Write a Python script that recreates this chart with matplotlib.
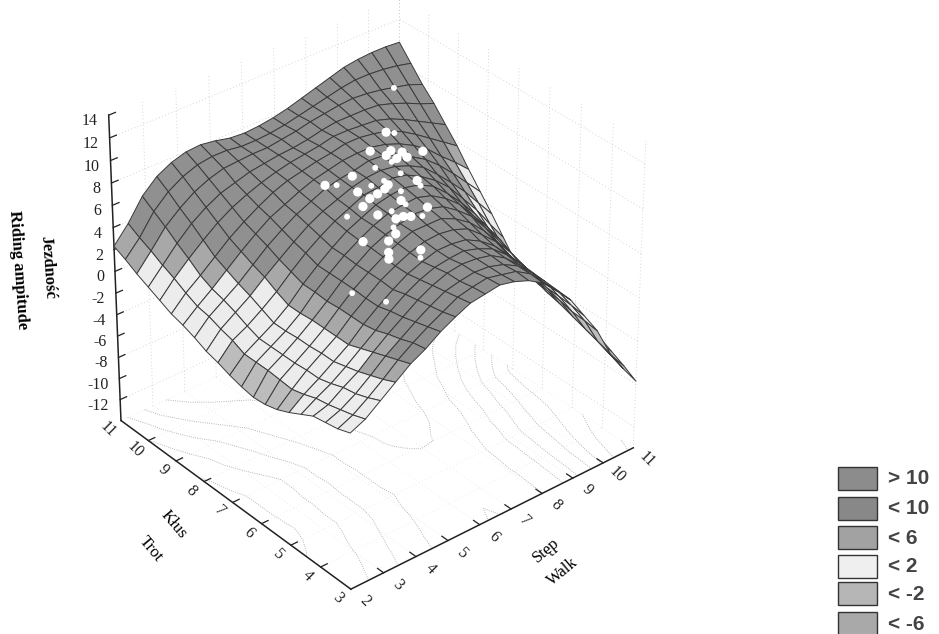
import numpy as np
import matplotlib
matplotlib.use("Agg")
import matplotlib.pyplot as plt
from matplotlib.patches import Rectangle
from mpl_toolkits.mplot3d import proj3d

# ---- data ----
walk_ticks = [2, 3, 4, 5, 6, 7, 8, 9, 10, 11]
trot_ticks = [3, 4, 5, 6, 7, 8, 9, 10, 11]
amp_ticks = [-12, -10, -8, -6, -4, -2, 0, 2, 4, 6, 8, 10, 12, 14]
walk_grid = np.linspace(2, 11, 21)
trot_grid = np.linspace(3, 11, 21)
# rows: Trot ascending, columns: Walk ascending
amplitude = np.array([
 [0.2,0.8,1.8,2.8,3.8,4.5,5.4,6.1,6.7,6.9,7.1,6.8,6.3,5.5,4.2,2.8,0.8,-1.2,-3.9,-5.9,-7.7],
 [-0.2,0.4,1.3,2.3,3.4,4.3,5.1,5.8,6.5,6.8,7.0,6.7,6.4,5.6,4.2,2.9,1.0,-1.0,-3.5,-5.4,-7.0],
 [-0.4,0.1,0.9,1.9,3.0,3.9,4.8,5.6,6.3,6.6,6.8,6.7,6.3,5.6,4.4,3.0,1.1,-0.9,-3.1,-4.9,-6.4],
 [-0.6,-0.2,0.7,1.5,2.6,3.6,4.5,5.4,6.1,6.6,6.8,6.7,6.4,5.6,4.4,3.1,1.2,-0.6,-2.7,-4.4,-5.8],
 [-1.2,-0.4,0.3,1.2,2.2,3.2,4.3,5.2,5.9,6.4,6.6,6.7,6.3,5.7,4.6,3.2,1.4,-0.4,-2.3,-3.8,-5.1],
 [-1.8,-0.8,0.0,0.9,1.8,3.0,4.0,4.9,5.7,6.2,6.6,6.6,6.4,5.7,4.7,3.3,1.5,-0.2,-2.0,-3.3,-4.4],
 [-2.3,-1.1,0.0,0.9,1.8,3.0,4.0,5.0,5.7,6.3,6.7,6.8,6.6,6.1,5.0,3.8,2.0,0.3,-1.5,-2.9,-4.3],
 [-2.6,-1.0,-0.1,0.8,1.8,3.0,4.1,5.0,5.8,6.4,6.9,6.9,6.9,6.3,5.4,4.1,2.5,0.9,-1.0,-2.6,-4.4],
 [-2.7,-0.9,-0.1,0.8,1.8,2.9,4.1,5.0,5.9,6.5,6.9,7.2,7.1,6.7,5.8,4.7,3.1,1.3,-0.5,-2.3,-4.5],
 [-2.5,-0.9,-0.1,0.7,1.7,3.0,4.1,5.1,5.9,6.6,7.1,7.3,7.4,7.0,6.2,5.1,3.5,1.9,0.1,-2.0,-4.1],
 [-2.2,-0.9,-0.1,0.7,1.7,3.0,4.1,5.1,6.0,6.6,7.2,7.5,7.6,7.3,6.6,5.4,4.0,2.4,0.5,-1.6,-3.7],
 [-1.8,-0.4,0.3,1.2,2.2,3.4,4.5,5.4,6.2,6.8,7.4,7.5,7.8,7.5,6.8,5.9,4.7,3.1,1.5,-0.4,-2.2],
 [-1.5,-0.1,0.8,1.7,2.8,3.8,4.8,5.7,6.4,6.9,7.4,7.7,7.8,7.6,7.1,6.4,5.2,3.9,2.5,0.9,-0.7],
 [-1.0,0.3,1.2,2.1,3.2,4.3,5.2,6.0,6.6,7.2,7.5,7.7,8.0,7.9,7.4,6.7,5.9,4.8,3.5,2.1,0.7],
 [-0.6,0.5,1.5,2.6,3.7,4.7,5.6,6.2,6.8,7.3,7.6,7.9,8.0,8.0,7.7,7.2,6.5,5.6,4.4,3.3,2.1],
 [-0.3,1.0,2.0,3.1,4.2,5.1,5.9,6.6,7.1,7.4,7.7,7.9,8.2,8.2,8.0,7.7,7.1,6.3,5.4,4.5,3.6],
 [0.2,1.6,2.8,3.9,4.9,5.7,6.3,6.8,7.2,7.5,7.7,7.9,8.2,8.2,8.1,8.0,7.6,7.0,6.3,5.6,4.9],
 [0.7,2.1,3.5,4.7,5.6,6.3,6.7,7.1,7.3,7.5,7.6,7.8,8.1,8.3,8.3,8.3,8.2,7.8,7.3,6.7,6.2],
 [1.2,2.7,4.3,5.4,6.3,6.9,7.3,7.4,7.5,7.5,7.7,7.9,8.2,8.4,8.6,8.7,8.6,8.4,8.1,7.8,7.3],
 [1.8,3.2,5.0,6.2,7.0,7.5,7.7,7.7,7.5,7.5,7.6,7.8,8.1,8.4,8.7,9.0,9.2,9.2,9.1,8.9,8.6],
 [2.3,3.8,5.7,6.9,7.6,8.0,8.1,7.9,7.6,7.5,7.6,7.8,8.1,8.5,8.9,9.3,9.7,9.9,10.0,10.0,9.9],
])
pts_walk = [8.58,8.71,10.10,7.71,8.11,7.88,8.28,7.99,8.22,8.69,7.79,7.31,7.62,6.64,5.87,6.09,7.71,7.62,7.09,7.05,
            6.71,6.87,6.59,6.28,6.31,5.96,7.10,6.83,6.80,7.12,6.35,5.99,5.38,6.21,6.41,6.55,6.77,5.92,5.78,4.97,
            5.45,5.13,5.78,5.55,4.95,3.37,3.74]
pts_trot = [8.88,8.74,10.23,8.49,8.22,8.13,8.02,7.89,7.79,7.76,7.85,7.89,7.37,7.94,8.02,7.87,6.92,6.71,7.36,7.18,
            7.38,7.10,7.04,7.37,7.00,6.85,6.81,6.52,6.34,5.96,6.32,6.39,6.75,6.03,6.00,5.90,5.76,5.80,5.58,5.78,
            5.46,5.12,4.77,4.54,4.92,4.41,3.72]
pts_amp = [8.0]*47
pts_full = [1,0,0,1,1,1,1,1,1,1,0,0,0,1,1,0,1,0,0,1,0,1,1,1,1,1,0,1,0,1,0,1,0,1,1,1,0,0,1,1,1,1,1,0,1,0,0]
legend_labels = ["> 10", "< 10", "< 6", "< 2", "< -2", "< -6"]
legend_colors = ["#8c8c8c", "#888888", "#a2a2a2", "#efefef", "#b6b6b6", "#a9a9a9"]

Z_FLOOR, Z_TOP = -14, 14
W = 939; H = 634; S = 622
cx, cy = 367.5, 293

fig = plt.figure(figsize=(W/100, H/100), dpi=100, facecolor="white")
ax = fig.add_axes([(cx-S/2)/W, (H-cy-S/2)/H, S/W, S/H], projection="3d", computed_zorder=False)
ax.set_proj_type("persp", focal_length=1.25)
ax.view_init(elev=33, azim=-129.7)
ax.set_box_aspect((1, 1, 0.98))
ax.set_xlim(2, 11); ax.set_ylim(3, 11); ax.set_zlim(Z_FLOOR, Z_TOP)
ax.set_axis_off()

# back walls and floor grid
g = dict(color="#c8c8c8", lw=0.6, ls=(0, (1, 3)), zorder=0)
f = dict(color="#e0e0e0", lw=0.5, ls=(0, (1, 4)), zorder=0)
for x in walk_ticks:
    ax.plot([x, x], [11, 11], [Z_FLOOR, Z_TOP], **g)
    ax.plot([x, x], [3, 11], [Z_FLOOR, Z_FLOOR], **f)
for y in trot_ticks:
    ax.plot([11, 11], [y, y], [Z_FLOOR, Z_TOP], **g)
    ax.plot([2, 11], [y, y], [Z_FLOOR, Z_FLOOR], **f)
for z in amp_ticks[::2]:
    ax.plot([2, 11], [11, 11], [z, z], **g)
    ax.plot([11, 11], [3, 11], [z, z], **g)

# floor contours
XX, YY = np.meshgrid(walk_grid, trot_grid)
ax.contour(XX, YY, amplitude, levels=np.arange(-7, 9, 2.0), zdir="z", offset=Z_FLOOR,
           colors="#a0a0a0", linewidths=0.6, linestyles=":", zorder=1)

# axes
axc = dict(color="#222222", lw=1.1, zorder=2)
ax.plot([2, 2], [11, 11], [Z_FLOOR, Z_TOP], **axc)
ax.plot([2, 2], [3, 11], [Z_FLOOR, Z_FLOOR], **axc)
ax.plot([2, 11], [3, 3], [Z_FLOOR, Z_FLOOR], **axc)
tk = dict(color="#222222", lw=0.9, zorder=2)
for z in amp_ticks:
    ax.plot([2, 2.2], [11, 11], [z, z], **tk)
for y in trot_ticks[1:-1]:
    ax.plot([2, 2.2], [y, y], [Z_FLOOR, Z_FLOOR], **tk)
for x in walk_ticks[1:-1]:
    ax.plot([x, x], [3, 3.2], [Z_FLOOR, Z_FLOOR], **tk)

# surface
def shade(v):
    if v > 3.4: return "#909090"
    if v > 2.2: return "#a8a8a8"
    if v > -1.3: return "#ececec"
    return "#bcbcbc"
cell = (amplitude[:-1, :-1] + amplitude[1:, :-1] + amplitude[:-1, 1:] + amplitude[1:, 1:]) / 4
fc = np.empty(amplitude.shape + (4,))
for j in range(cell.shape[0]):
    for i in range(cell.shape[1]):
        fc[j, i] = matplotlib.colors.to_rgba(shade(cell[j, i]))
ax.plot_surface(XX, YY, amplitude, facecolors=fc, rstride=1, cstride=1, shade=False,
                edgecolor="#3a3a3a", linewidth=0.7, antialiased=True, zorder=3)

# observations
sizes = [44 if p else 18 for p in pts_full]
ax.scatter(pts_walk, pts_trot, pts_amp, s=sizes, c="white", edgecolors="none",
           depthshade=False, zorder=5)

# overlay in figure pixels for all text and the legend
ov = fig.add_axes([0, 0, 1, 1]); ov.set_xlim(0, W); ov.set_ylim(H, 0); ov.axis("off"); ov.patch.set_alpha(0)
fig.canvas.draw()
def to_px(x, y, z):
    a, b, _ = proj3d.proj_transform(x, y, z, ax.get_proj())
    px, py = ax.transData.transform((a, b))
    return px, H - py

serif = "Liberation Serif"
for z in amp_ticks:
    px, py = to_px(2, 11, z)
    ov.text(px - 11, py + 6, str(z), ha="right", va="center", family=serif, fontsize=11.5, color="#222222")
for y in trot_ticks:
    px, py = to_px(2, y, Z_FLOOR)
    ov.text(px - 13, py + 9, str(y), ha="center", va="center", rotation=-45, family=serif, fontsize=11.5, color="#222222")
for x in walk_ticks:
    px, py = to_px(x, 3, Z_FLOOR)
    ov.text(px + 14, py + 12, str(x), ha="center", va="center", rotation=-45, family=serif, fontsize=11.5, color="#222222")

ov.text(47.5, 267.5, "Jezdność", rotation=-86, ha="center", va="center", family=serif, weight="bold", fontsize=12)
ov.text(18, 270, "Riding ampitude", rotation=-86, ha="center", va="center", family=serif, weight="bold", fontsize=12)
ov.text(174, 525, "Kłus", rotation=-50, ha="center", va="center", family=serif, fontsize=12)
ov.text(151, 549, "Trot", rotation=-50, ha="center", va="center", family=serif, fontsize=12)
ov.text(546, 550, "Stęp", rotation=40, ha="center", va="center", family=serif, fontsize=12)
ov.text(563, 572, "Walk", rotation=40, ha="center", va="center", family=serif, fontsize=12)
tops = [467, 497, 526, 555, 582, 612]
for t, lab, col in zip(tops, legend_labels, legend_colors):
    ov.add_patch(Rectangle((838, t), 39, 23, facecolor=col, edgecolor="#333333", lw=1.0))
    ov.text(888, t + 12, lab, ha="left", va="center", family="Liberation Sans", weight="bold", fontsize=15, color="#444444", clip_on=True)

fig.savefig("out.png", dpi=100, facecolor="white")
